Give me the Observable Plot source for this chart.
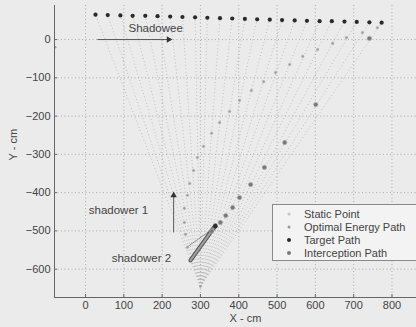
<!DOCTYPE html>
<html><head><meta charset="utf-8">
<script src="https://cdn.jsdelivr.net/npm/d3@7"></script>
<script src="https://cdn.jsdelivr.net/npm/@observablehq/plot@0.6"></script>
<style>
html,body{margin:0;padding:0;background:#ebebeb;overflow:hidden;width:416px;height:327px;}
#wrap{position:relative;width:416px;height:327px;font-family:"Liberation Sans",Arial,sans-serif;}
#legend{position:absolute;left:272px;top:204px;width:170px;height:57px;background:#f3f3f3;border:1px solid #8a8a8a;box-sizing:border-box;font-size:11px;color:#444;}
#legend .row{position:absolute;left:0;height:13px;line-height:13px;}
#legend .lab{position:absolute;left:31px;white-space:nowrap;}
#legend .mk{position:absolute;left:16px;top:6.5px;transform:translate(-50%,-50%);border-radius:50%;}
</style></head>
<body><div id="wrap"></div>
<script>
// ---- data ----
const targetX = [26, 58, 91, 123, 156, 188, 221, 253, 286, 318, 351, 383, 416, 448, 481, 513, 546, 578, 611, 643, 676, 708, 741, 773];
const targetY = [65, 64, 63, 62, 62, 61, 60, 59, 58, 57, 56, 55, 54, 53, 52, 51, 50, 49, 48, 48, 47, 46, 45, 44];
const optX = [762, 723, 681, 645, 606, 567, 533, 496, 465, 433, 402, 376, 350, 329, 308, 292, 282, 272, 266, 258, 258, 261, 266];
const optY = [31, 18, 5, -10, -26, -44, -65, -86, -110, -133, -159, -188, -217, -245, -279, -308, -342, -376, -407, -441, -478, -509, -543];
const intX = [741, 601, 520, 467, 431, 402, 384, 366, 352, 329];
const intY = [3, -170, -269, -334, -379, -413, -439, -460, -478, -501];
const staticX = [300, -79];
const staticY = [-645, -20];
const convergeX = 300, convergeY = -645;
const shadower2PathX = [274, 339];
const shadower2PathY = [-577, -486];
const shadower1LinkX = [264, 326];
const shadower1LinkY = [-543, -499];
const meetX = [339], meetY = [-488];
const arrowX1 = [31, 230], arrowY1 = [0, -504], arrowX2 = [217, 230], arrowY2 = [0, -407];
const arrowTurn = [90, 0];
const noteText = ["Shadowee", "shadower 1", "shadower 2"];
const noteX = [183, 86, 146];
const noteY = [29, -446, -572];
const xTicks = [0, 100, 200, 300, 400, 500, 600, 700, 800];
const yTicks = [-600, -500, -400, -300, -200, -100, 0];
const xDomain = [-81, 864];
const yDomain = [-674, 89];
const legendLabels = ["Static Point", "Optimal Energy Path", "Target Path", "Interception Path"];

// ---- derived tables ----
const target = targetX.map((x, i) => ({x, y: targetY[i]}));
const fan = target.map(d => ({x1: convergeX, y1: convergeY, x2: d.x, y2: d.y}));
const opt = optX.map((x, i) => ({x, y: optY[i]}));
const inter = intX.map((x, i) => ({x, y: intY[i]}));
const statics = staticX.map((x, i) => ({x, y: staticY[i]}));
const s2 = [{x1: shadower2PathX[0], y1: shadower2PathY[0], x2: shadower2PathX[1], y2: shadower2PathY[1]}];
const s1 = [{x1: shadower1LinkX[0], y1: shadower1LinkY[0], x2: shadower1LinkX[1], y2: shadower1LinkY[1]}];
const arrows = arrowX1.map((x1, i) => ({x1, y1: arrowY1[i], x2: arrowX2[i], y2: arrowY2[i], rot: arrowTurn[i]}));
const notes = noteText.map((t, i) => ({t, x: noteX[i], y: noteY[i]}));
const meet = meetX.map((x, i) => ({x, y: meetY[i]}));

const chart = Plot.plot({
  width: 416, height: 327,
  marginLeft: 54, marginRight: 0, marginTop: 5, marginBottom: 30,
  x: {domain: xDomain},
  y: {domain: yDomain},
  style: {background: "transparent", fontFamily: "'Liberation Sans', Arial, sans-serif", fontSize: "11px", color: "#444"},
  marks: [
    Plot.gridX(xTicks, {stroke: "#9a9a9a", strokeOpacity: 1, strokeWidth: 0.8, strokeDasharray: "1 2.5"}),
    Plot.gridY(yTicks, {stroke: "#9a9a9a", strokeOpacity: 1, strokeWidth: 0.8, strokeDasharray: "1 2.5"}),
    Plot.link(fan, {x1: "x1", y1: "y1", x2: "x2", y2: "y2", stroke: "#b4b4b4", strokeWidth: 0.9, strokeDasharray: "0.9 2.5"}),
    Plot.link(s1, {x1: "x1", y1: "y1", x2: "x2", y2: "y2", stroke: "#777", strokeWidth: 0.8}),
    Plot.link(s2, {x1: "x1", y1: "y1", x2: "x2", y2: "y2", stroke: "#555", strokeWidth: 4.2, strokeLinecap: "round"}),
    Plot.link(s2, {x1: "x1", y1: "y1", x2: "x2", y2: "y2", stroke: "#a0a0a0", strokeWidth: 2, strokeLinecap: "round"}),
    Plot.dot(statics, {x: "x", y: "y", r: 1.2, fill: "#999", stroke: "none"}),
    Plot.dot(opt, {x: "x", y: "y", r: 1.3, fill: "#9a9a9a", stroke: "#bdbdbd", strokeWidth: 0.6}),
    Plot.dot(inter, {x: "x", y: "y", r: 2.2, fill: "#777", stroke: "#b0b0b0", strokeWidth: 0.6}),
    Plot.dot(target, {x: "x", y: "y", r: 2.1, fill: "#2a2a2a", stroke: "none"}),
    Plot.dot(meet, {x: "x", y: "y", r: 2.2, fill: "#2a2a2a", stroke: "none"}),
    Plot.link(arrows, {x1: "x1", y1: "y1", x2: "x2", y2: "y2", stroke: "#4a4a4a", strokeWidth: 0.9}),
    Plot.dot(arrows, {x: "x2", y: "y2", symbol: "triangle", r: 2.4, rotate: "rot", fill: "#333", stroke: "none"}),
    Plot.text(notes, {x: "x", y: "y", text: "t", fontSize: 11.5, fill: "#444"}),
    Plot.ruleX([xDomain[0]], {stroke: "#666", strokeWidth: 1}),
    Plot.ruleY([yDomain[0]], {stroke: "#666", strokeWidth: 1}),
    Plot.axisX(xTicks, {tickSize: -3, tickPadding: 7, label: null, stroke: "#666", color: "#444"}),
    Plot.axisY(yTicks, {tickSize: -3, tickPadding: 7, label: null, stroke: "#666", color: "#444"}),
    Plot.text(["X - cm"], {frameAnchor: "bottom", dx: 10, dy: 24, fontSize: 11, fill: "#444"}),
    Plot.text(["Y - cm"], {frameAnchor: "left", dx: -41, dy: 9, rotate: -90, fontSize: 11, fill: "#444"})
  ]
});
const wrap = document.getElementById("wrap");
wrap.appendChild(chart);

// legend
const lg = document.createElement("div");
lg.id = "legend";
const markerStyles = [
  "width:3px;height:3px;background:#c4c4c4;",
  "width:3px;height:3px;background:#9a9a9a;",
  "width:4px;height:4px;background:#2a2a2a;",
  "width:4px;height:4px;background:#7a7a7a;"
];
legendLabels.forEach((t, i) => {
  const row = document.createElement("div");
  row.className = "row";
  row.style.top = (2.5 + i * 13) + "px";
  row.innerHTML = `<span class="mk" style="${markerStyles[i]}"></span><span class="lab">${t}</span>`;
  lg.appendChild(row);
});
wrap.appendChild(lg);
</script>
</body></html>
